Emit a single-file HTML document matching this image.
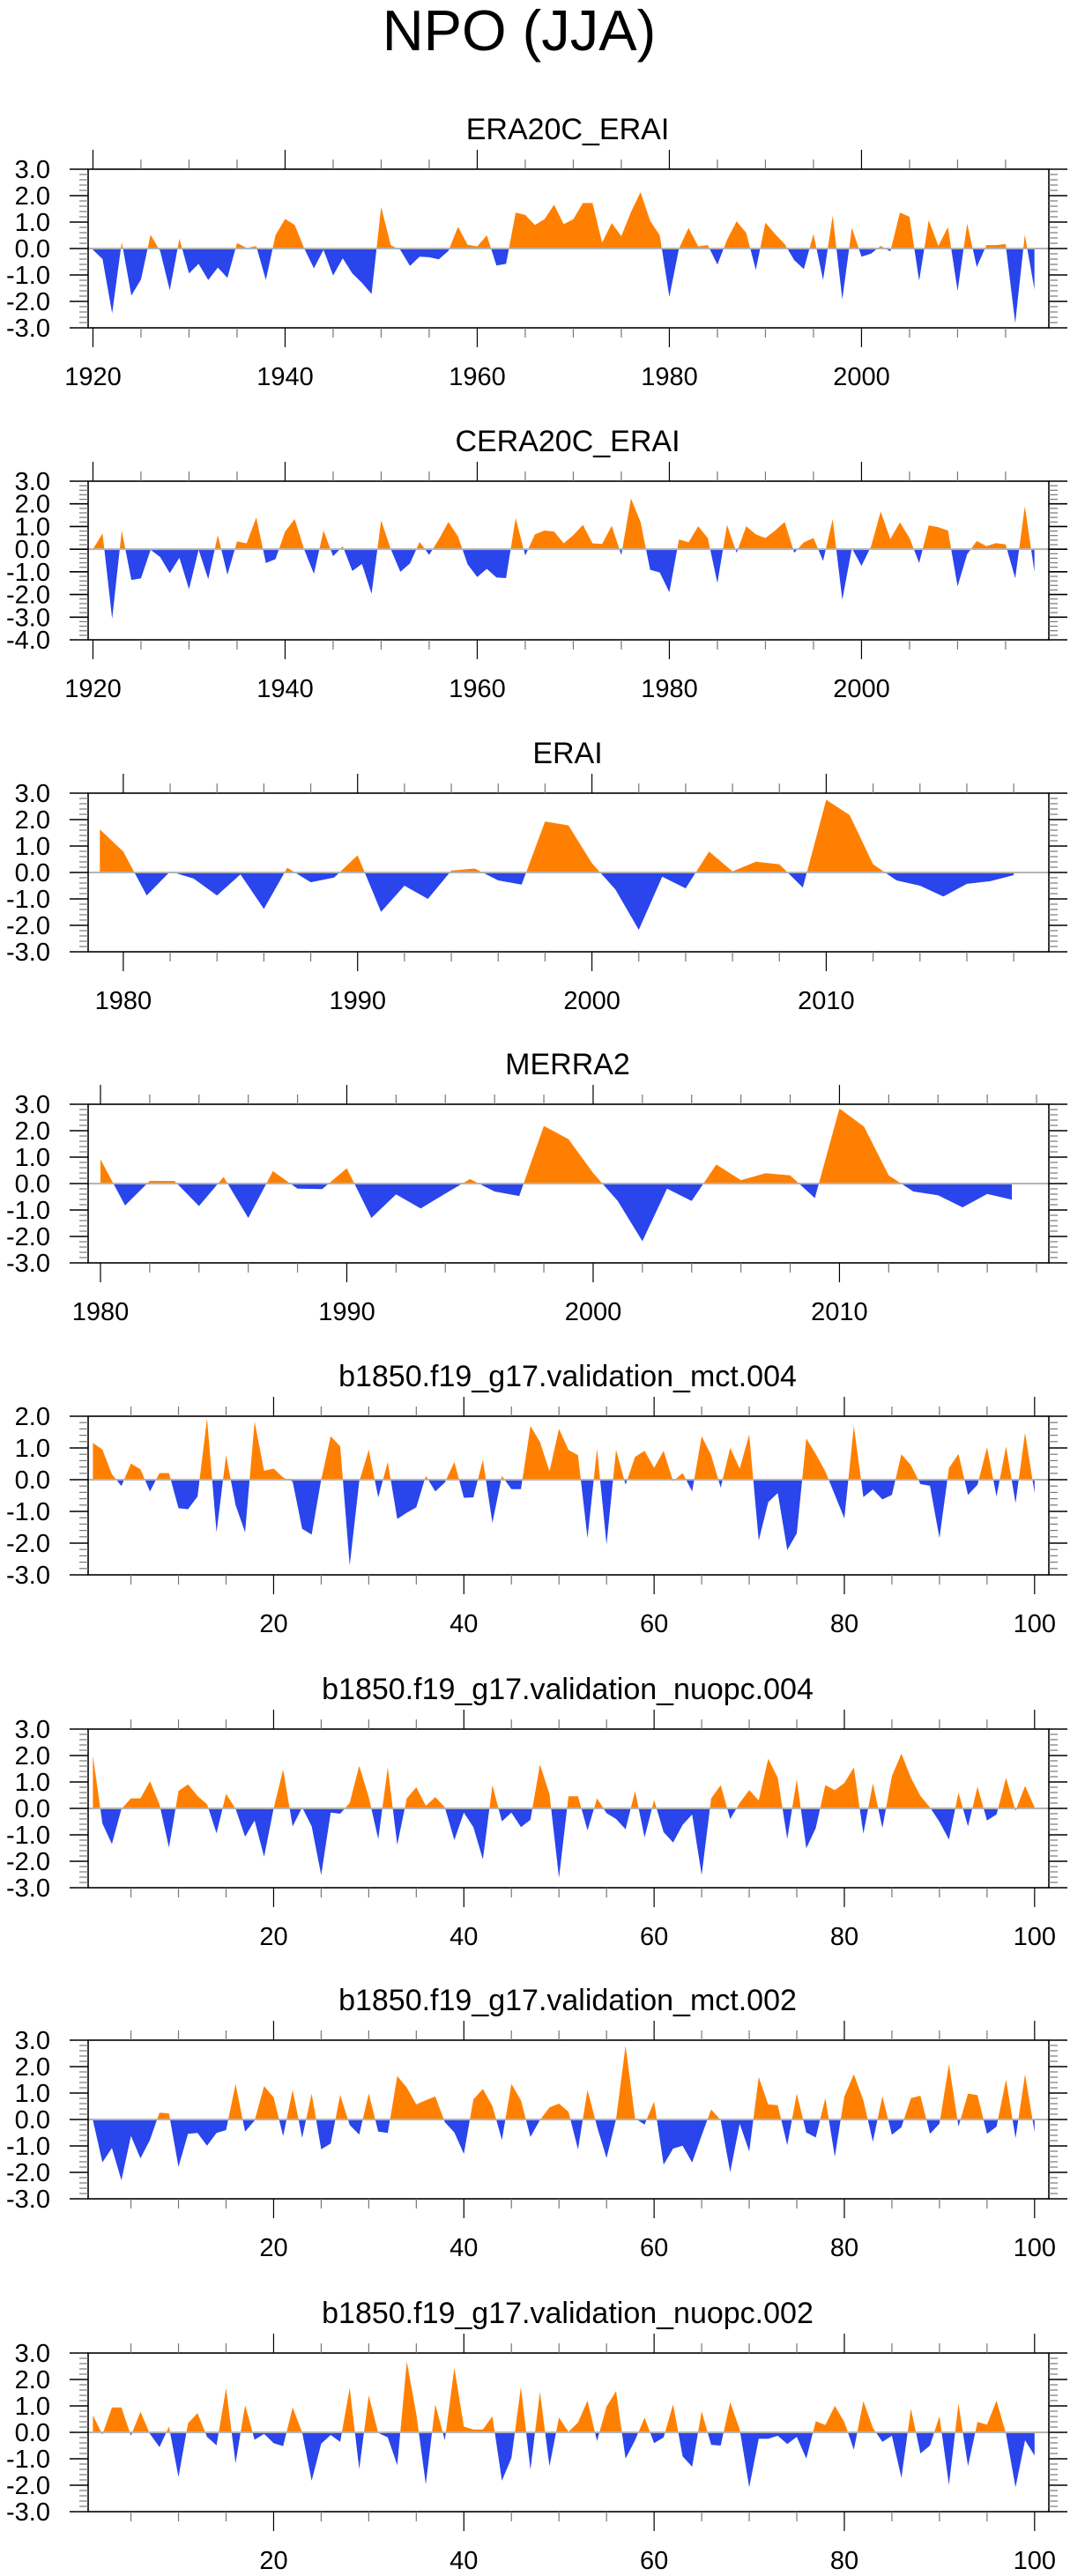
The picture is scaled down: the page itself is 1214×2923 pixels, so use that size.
<!DOCTYPE html>
<html><head><meta charset="utf-8"><title>NPO (JJA)</title>
<style>
html,body{margin:0;padding:0;background:#fff;}
svg{display:block;font-family:"Liberation Sans",sans-serif;}
</style></head>
<body>
<svg id="fig" width="1214" height="2923" viewBox="0 0 1214 2923" xmlns="http://www.w3.org/2000/svg">
<text x="589" y="57" font-size="65" text-anchor="middle">NPO (JJA)</text>
</svg>
<script>
// ---- data ----
const era20cStart = 1920;
const era20cValues = [-0.05,-0.4,-2.45,0.25,-1.78,-1.17,0.52,-0.1,-1.58,0.37,-0.94,-0.58,-1.19,-0.72,-1.11,0.21,0.02,0.09,-1.19,0.5,1.12,0.89,0.0,-0.75,-0.05,-1.02,-0.37,-0.94,-1.3,-1.72,1.57,0.13,-0.06,-0.66,-0.31,-0.33,-0.41,-0.09,0.82,0.14,0.08,0.5,-0.64,-0.58,1.36,1.27,0.89,1.11,1.66,0.92,1.11,1.72,1.72,0.22,0.96,0.47,1.38,2.13,1.05,0.5,-1.83,0.0,0.78,0.08,0.13,-0.61,0.33,1.03,0.59,-0.81,0.98,0.55,0.17,-0.44,-0.78,0.55,-1.19,1.24,-1.92,0.78,-0.31,-0.19,0.1,-0.11,1.36,1.2,-1.22,1.07,0.1,0.81,-1.6,0.94,-0.7,0.13,0.13,0.17,-2.82,0.52,-1.55];
const cera20cStart = 1920;
const cera20cValues = [0.0,0.69,-3.07,0.82,-1.36,-1.29,-0.03,-0.35,-1.06,-0.38,-1.77,-0.03,-1.32,0.62,-1.13,0.34,0.26,1.4,-0.61,-0.44,0.78,1.33,-0.03,-1.09,0.82,-0.31,0.13,-0.96,-0.65,-1.97,1.27,0.0,-1.0,-0.63,0.32,-0.25,0.43,1.2,0.56,-0.67,-1.23,-0.87,-1.25,-1.28,1.37,-0.28,0.65,0.82,0.78,0.26,0.62,1.07,0.26,0.23,1.03,-0.26,2.24,1.2,-0.91,-1.03,-1.9,0.43,0.3,1.01,0.49,-1.49,1.07,-0.16,1.01,0.65,0.49,0.82,1.2,-0.16,0.3,0.49,-0.52,1.33,-2.23,0.04,-0.74,0.13,1.66,0.45,1.18,0.49,-0.61,1.05,0.97,0.82,-1.64,-0.22,0.36,0.13,0.27,0.21,-1.29,1.89,-1.0];
const eraiStart = 1979;
const eraiValues = [1.63,0.79,-0.87,0.04,-0.23,-0.87,-0.07,-1.38,0.18,-0.37,-0.19,0.65,-1.49,-0.5,-1.0,0.07,0.15,-0.3,-0.46,1.93,1.78,0.35,-0.64,-2.17,-0.16,-0.6,0.79,0.04,0.41,0.31,-0.57,2.75,2.17,0.31,-0.3,-0.5,-0.91,-0.43,-0.33,-0.1];
const merra2Start = 1980;
const merra2Values = [0.92,-0.83,0.1,0.1,-0.85,0.25,-1.3,0.47,-0.19,-0.21,0.58,-1.3,-0.41,-0.94,-0.38,0.17,-0.3,-0.47,2.18,1.68,0.4,-0.66,-2.18,-0.19,-0.66,0.72,0.13,0.39,0.31,-0.55,2.84,2.15,0.31,-0.3,-0.44,-0.9,-0.39,-0.61];
const mct004Values = [1.16,0.95,0.17,-0.2,0.51,0.33,-0.37,0.21,0.21,-0.9,-0.93,-0.53,1.93,-1.66,0.77,-0.8,-1.66,1.83,0.28,0.35,0.07,-0.06,-1.55,-1.73,0.0,1.37,1.05,-2.7,-0.06,0.94,-0.56,0.56,-1.24,-1.04,-0.87,0.12,-0.37,-0.09,0.56,-0.57,-0.56,0.63,-1.36,0.12,-0.3,-0.3,1.69,1.19,0.26,1.6,0.94,0.77,-1.84,0.98,-2.04,0.94,-0.16,0.72,0.91,0.37,0.91,-0.05,0.21,-0.37,1.37,0.77,-0.25,1.0,0.35,1.42,-1.92,-0.71,-0.42,-2.22,-1.69,1.3,0.81,0.26,-0.48,-1.22,1.69,-0.55,-0.31,-0.62,-0.48,0.8,0.46,-0.14,-0.19,-1.84,0.37,0.81,-0.48,-0.16,1.02,-0.53,1.05,-0.74,1.48,-0.42];
const nuopc004Values = [2.0,-0.57,-1.35,-0.02,0.38,0.38,1.03,0.16,-1.48,0.66,0.91,0.47,0.16,-0.94,0.55,-0.01,-1.07,-0.46,-1.83,0.0,1.47,-0.68,0.04,-0.68,-2.52,-0.16,-0.2,0.21,1.61,0.43,-1.16,1.55,-1.38,0.38,0.8,0.1,0.43,0.04,-1.2,-0.16,-0.71,-1.93,0.88,-0.49,-0.16,-0.71,-0.43,1.66,0.55,-2.63,0.46,0.46,-0.83,0.38,-0.18,-0.4,-0.79,0.66,-1.1,0.32,-0.9,-1.29,-0.62,-0.23,-2.52,0.38,0.88,-0.4,0.21,0.69,0.3,1.88,1.16,-1.16,1.1,-1.51,-0.74,0.88,0.69,0.96,1.55,-0.96,0.94,-0.74,1.22,2.07,1.16,0.47,0.04,-0.51,-1.18,0.6,-0.68,0.82,-0.46,-0.23,1.16,-0.09,0.85,0.04];
const mct002Values = [-0.02,-1.62,-1.08,-2.3,-0.62,-1.47,-0.77,0.26,0.23,-1.79,-0.54,-0.51,-0.99,-0.51,-0.4,1.34,-0.46,-0.04,1.26,0.84,-0.63,1.12,-0.69,0.98,-1.13,-0.91,0.93,-0.21,-0.57,0.98,-0.46,-0.51,1.64,1.21,0.57,0.73,0.87,-0.1,-0.49,-1.3,0.76,1.16,0.51,-0.77,1.34,0.73,-0.66,-0.02,0.46,0.6,0.29,-1.13,1.12,-0.27,-1.46,0.01,2.79,0.04,-0.19,0.68,-1.71,-1.1,-0.99,-1.63,-0.6,0.38,-0.02,-1.99,-0.16,-1.21,1.6,0.57,0.54,-0.97,0.98,-0.49,-0.68,0.81,-1.41,0.87,1.71,0.73,-0.84,0.88,-0.58,-0.29,0.81,0.9,-0.54,-0.16,2.09,-0.27,0.98,0.92,-0.54,-0.27,1.51,-0.71,1.71,-0.47];
const nuopc002Values = [0.64,-0.08,0.94,0.94,-0.13,0.78,-0.06,-0.56,0.22,-1.69,0.34,0.73,-0.17,-0.49,1.67,-1.17,1.03,-0.28,-0.06,-0.41,-0.52,0.94,0.0,-1.83,-0.43,-0.1,-0.36,1.68,-1.39,1.39,-0.02,-0.19,-1.24,2.68,0.7,-1.97,1.06,-0.3,2.44,0.22,0.11,0.11,0.61,-1.83,-0.97,1.72,-1.41,1.53,-1.28,0.56,0.02,0.37,1.2,-0.33,0.98,1.56,-0.99,-0.3,0.56,-0.41,-0.19,1.06,-0.91,-1.3,0.79,-0.47,-0.5,1.14,0.11,-2.08,-0.24,-0.24,-0.13,-0.44,-0.17,-0.99,0.42,0.28,1.0,0.39,-0.66,1.18,0.17,-0.36,-0.13,-1.72,0.89,-0.8,-0.5,0.61,-1.99,1.09,-1.28,0.39,0.29,1.2,-0.06,-2.08,-0.3,-0.88];
const yearTicks20 = [1920,1940,1960,1980,2000];
const yearTicks10 = [1980,1990,2000,2010];
const runTicks = [20,40,60,80,100];
const yTicks3 = [3,2,1,0,-1,-2,-3];
const yTicks4 = [3,2,1,0,-1,-2,-3,-4];
const yTicks2 = [2,1,0,-1,-2,-3];

const panels = [
 {name:'era20c-erai', title:'ERA20C_ERAI', top:192, vals:era20cValues, start:era20cStart, xd:[1919.5,2019.5], yd:[-3,3], yt:yTicks3, xt:yearTicks20, minor:5},
 {name:'cera20c-erai', title:'CERA20C_ERAI', top:546, vals:cera20cValues, start:cera20cStart, xd:[1919.5,2019.5], yd:[-4,3], yt:yTicks4, xt:yearTicks20, minor:5},
 {name:'erai', title:'ERAI', top:900, vals:eraiValues, start:eraiStart, xd:[1978.5,2019.5], yd:[-3,3], yt:yTicks3, xt:yearTicks10, minor:2},
 {name:'merra2', title:'MERRA2', top:1253, vals:merra2Values, start:merra2Start, xd:[1979.5,2018.5], yd:[-3,3], yt:yTicks3, xt:yearTicks10, minor:2},
 {name:'mct-004', title:'b1850.f19_g17.validation_mct.004', top:1607, vals:mct004Values, start:1, xd:[0.5,101.5], yd:[-3,2], yt:yTicks2, xt:runTicks, minor:5},
 {name:'nuopc-004', title:'b1850.f19_g17.validation_nuopc.004', top:1962, vals:nuopc004Values, start:1, xd:[0.5,101.5], yd:[-3,3], yt:yTicks3, xt:runTicks, minor:5},
 {name:'mct-002', title:'b1850.f19_g17.validation_mct.002', top:2315, vals:mct002Values, start:1, xd:[0.5,101.5], yd:[-3,3], yt:yTicks3, xt:runTicks, minor:5},
 {name:'nuopc-002', title:'b1850.f19_g17.validation_nuopc.002', top:2670, vals:nuopc002Values, start:1, xd:[0.5,101.5], yd:[-3,3], yt:yTicks3, xt:runTicks, minor:5}
];
const L = 100, R = 1190, H = 180;
const NS = 'http://www.w3.org/2000/svg';
const svg = document.getElementById('fig');
function mk(tag, attrs, parent){
  const e = document.createElementNS(NS, tag);
  for (const k in attrs) e.setAttribute(k, attrs[k]);
  (parent||svg).appendChild(e);
  return e;
}
panels.forEach((p, pi) => {
  const g = mk('g', {});
  
  
  const T = p.top, B = p.top + H;
  const xs = v => L + (v - p.xd[0]) / (p.xd[1] - p.xd[0]) * (R - L);
  const ys = v => B - (v - p.yd[0]) / (p.yd[1] - p.yd[0]) * H;
  const t = mk('text', {x:644, y:T-34, 'font-size':34, 'text-anchor':'middle'}, g);
  t.textContent = p.title;
  
  
  // clip paths
  const y0 = ys(0);
  const cu = mk('clipPath', {id:'cu'+pi}, g);
  mk('rect', {x:L, y:T, width:R-L, height:y0-T}, cu);
  const cd = mk('clipPath', {id:'cd'+pi}, g);
  mk('rect', {x:L, y:y0, width:R-L, height:B-y0}, cd);
  let d = 'M' + xs(p.start).toFixed(2) + ',' + y0.toFixed(2);
  p.vals.forEach((v, i) => { d += ' L' + xs(p.start + i).toFixed(2) + ',' + ys(v).toFixed(2); });
  d += ' L' + xs(p.start + p.vals.length - 1).toFixed(2) + ',' + y0.toFixed(2) + ' Z';
  const pos = mk('path', {d:d, fill:'#ff8000', 'clip-path':'url(#cu'+pi+')'}, g);
  
  
  const neg = mk('path', {d:d, fill:'#2945eb', 'clip-path':'url(#cd'+pi+')'}, g);
  
  
  const zl = mk('line', {x1:L, x2:R, y1:y0, y2:y0, stroke:'#b4b4b4', 'stroke-width':2}, g);
  
  
  // frame
  const fr = mk('rect', {x:L, y:T, width:R-L, height:H, fill:'none', stroke:'#000', 'stroke-width':1.6}, g);
  
  
  // y ticks (outward)
  for (let v = p.yd[0]; v <= p.yd[1] + 1e-9; v += 0.2) {
    const yy = ys(v);
    const major = Math.abs(v - Math.round(v)) < 1e-6;
    const len = major ? 21 : 10;
    mk('line', {x1:L-len, x2:L, y1:yy, y2:yy, stroke:major?'#000':'#777', 'stroke-width':major?1.6:1.2}, g);
    mk('line', {x1:R, x2:R+len, y1:yy, y2:yy, stroke:major?'#000':'#777', 'stroke-width':major?1.6:1.2}, g);
  }
  p.yt.forEach(v => {
    const tl = mk('text', {x:57, y:ys(v)+10, 'font-size':29, 'text-anchor':'end'}, g);
    tl.textContent = v.toFixed(1);
    
    
  });
  // x ticks (outward top & bottom)
  const first = Math.ceil(p.xd[0] / p.minor) * p.minor;
  const majorStep = p.xt[1] - p.xt[0];
  for (let v = first; v <= p.xd[1]; v += p.minor) {
    const xx = xs(v);
    const major = (v % majorStep) === 0;
    const len = major ? 22 : 11;
    mk('line', {x1:xx, x2:xx, y1:T-len, y2:T, stroke:major?'#000':'#777', 'stroke-width':1.2}, g);
    mk('line', {x1:xx, x2:xx, y1:B, y2:B+len, stroke:major?'#000':'#777', 'stroke-width':1.2}, g);
  }
  p.xt.forEach(v => {
    const tl = mk('text', {x:xs(v), y:B+65, 'font-size':29, 'text-anchor':'middle'}, g);
    tl.textContent = String(v);
    
    
  });
});
</script>
</body></html>
